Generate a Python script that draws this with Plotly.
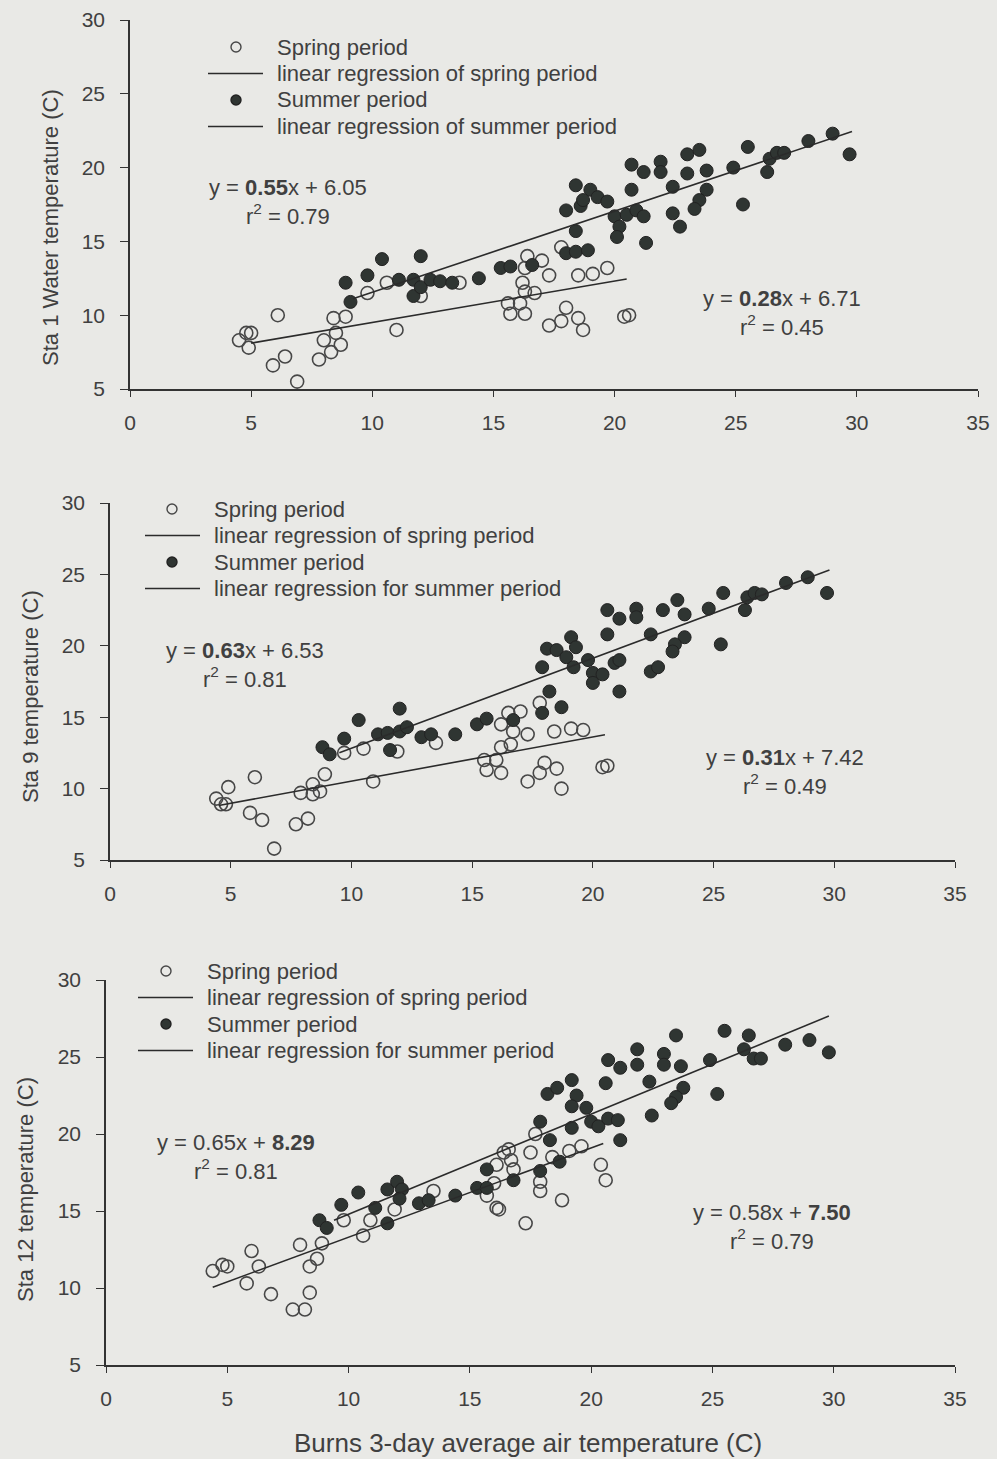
import plotly.graph_objects as go

W, H = 997, 1459

# ---- data ----
spring1_x = [4.5, 4.8, 5.0, 4.9, 6.1, 5.9, 6.4, 6.9, 7.8, 8.3, 8.7, 8.0, 8.5, 8.4, 8.9, 11.0, 9.8, 10.6, 12.0, 13.6,
             16.4, 16.3, 16.2, 16.3, 15.6, 16.1, 15.7, 16.3, 16.7, 17.0, 17.8, 17.3, 18.5, 19.1, 19.7, 18.0, 17.3,
             17.8, 18.5, 18.7, 20.4, 20.6]
spring1_y = [8.3, 8.8, 8.8, 7.8, 10.0, 6.6, 7.2, 5.5, 7.0, 7.5, 8.0, 8.3, 8.8, 9.8, 9.9, 9.0, 11.5, 12.2, 11.3, 12.2,
             14.0, 13.2, 12.2, 11.6, 10.8, 10.8, 10.1, 10.1, 11.5, 13.7, 14.6, 12.7, 12.7, 12.8, 13.2, 10.5, 9.3,
             9.6, 9.8, 9.0, 9.9, 10.0]
summer1_x = [8.9, 9.1, 9.8, 10.4, 11.1, 11.7, 12.0, 11.7, 12.0, 12.4, 12.8, 13.3, 14.4, 15.3, 15.7, 16.6,
             18.0, 18.4, 18.9, 18.4, 18.0, 18.6, 18.4, 19.0, 19.3, 19.7, 18.7, 20.0, 20.5, 20.9, 21.2, 20.2, 20.1,
             21.3, 20.7, 20.7, 21.2, 21.9, 21.9, 22.4, 22.4, 22.7, 23.0, 23.5, 23.0, 23.8, 23.8, 23.5, 23.3, 24.9,
             25.5, 25.3, 26.3, 26.4, 26.7, 27.0, 28.0, 29.0, 29.7]
summer1_y = [12.2, 10.9, 12.7, 13.8, 12.4, 12.4, 14.0, 11.3, 11.9, 12.4, 12.3, 12.2, 12.5, 13.2, 13.3, 13.4,
             14.2, 14.3, 14.4, 15.7, 17.1, 17.4, 18.8, 18.5, 18.0, 17.7, 17.8, 16.7, 16.8, 17.1, 16.7, 16.0, 15.3,
             14.9, 18.5, 20.2, 19.7, 20.4, 19.7, 18.7, 16.9, 16.0, 20.9, 21.2, 19.6, 19.8, 18.5, 17.8, 17.2, 20.0,
             21.4, 17.5, 19.7, 20.6, 21.0, 21.0, 21.8, 22.3, 20.9]

spring2_x = [4.4, 4.6, 4.8, 4.9, 6.0, 5.8, 6.3, 6.8, 7.7, 8.2, 7.9, 8.4, 8.7, 8.4, 8.9, 10.9, 9.7, 10.5, 11.9, 13.5,
             16.5, 17.0, 17.8, 16.2, 16.7, 17.3, 18.4, 19.1, 19.6, 16.2, 16.6, 15.5, 16.0, 15.6, 16.2, 18.0, 18.5,
             17.8, 17.3, 18.7, 20.4, 20.6]
spring2_y = [9.3, 8.9, 8.9, 10.1, 10.8, 8.3, 7.8, 5.8, 7.5, 7.9, 9.7, 9.6, 9.8, 10.3, 11.0, 10.5, 12.5, 12.8, 12.6, 13.2,
             15.3, 15.4, 16.0, 14.5, 14.0, 13.8, 14.0, 14.2, 14.1, 12.9, 13.1, 12.0, 12.0, 11.3, 11.1, 11.8, 11.4,
             11.1, 10.5, 10.0, 11.5, 11.6]
summer2_x = [8.8, 9.1, 9.7, 10.3, 11.1, 11.6, 11.5, 12.0, 12.0, 12.3, 12.9, 13.3, 14.3, 15.2, 15.6, 16.7,
             17.9, 18.2, 18.7, 17.9, 18.1, 18.5, 18.9, 19.1, 19.3, 19.2, 19.8, 20.0, 20.0, 20.4, 20.9, 21.1, 21.1,
             20.6, 20.6, 21.1, 21.8, 21.8, 22.4, 22.4, 22.7, 22.9, 23.5, 23.8, 23.8, 23.4, 23.3, 24.8, 25.4, 25.3,
             26.3, 26.4, 26.7, 27.0, 28.0, 28.9, 29.7]
summer2_y = [12.9, 12.4, 13.5, 14.8, 13.8, 12.7, 13.9, 15.6, 14.0, 14.3, 13.6, 13.8, 13.8, 14.5, 14.9, 14.8,
             15.3, 16.8, 15.7, 18.5, 19.8, 19.7, 19.2, 20.6, 19.9, 18.5, 19.0, 18.1, 17.4, 18.0, 18.8, 19.0, 16.8,
             20.8, 22.5, 21.9, 22.6, 22.0, 20.8, 18.2, 18.5, 22.5, 23.2, 22.2, 20.6, 20.1, 19.6, 22.6, 23.7, 20.1,
             22.5, 23.4, 23.7, 23.6, 24.4, 24.8, 23.7]

spring3_x = [4.4, 4.8, 5.0, 6.0, 6.3, 5.8, 6.8, 7.7, 8.2, 8.4, 8.0, 8.4, 8.7, 8.9, 9.8, 10.6, 10.9, 11.9, 13.5,
             16.1, 15.7, 16.1, 16.7, 16.6, 16.8, 16.4, 17.5, 16.0, 17.9, 17.9, 18.8, 16.2, 17.3, 18.4, 19.1, 19.6,
             20.4, 20.6, 17.7]
spring3_y = [11.1, 11.5, 11.4, 12.4, 11.4, 10.3, 9.6, 8.6, 8.6, 9.7, 12.8, 11.4, 11.9, 12.9, 14.4, 13.4, 14.4, 15.1, 16.3,
             15.2, 16.0, 18.0, 18.3, 19.0, 17.7, 18.8, 18.8, 16.8, 16.9, 16.3, 15.7, 15.1, 14.2, 18.5, 18.9, 19.2,
             18.0, 17.0, 20.0]
summer3_x = [8.8, 9.1, 9.7, 10.4, 11.1, 11.6, 11.6, 12.0, 12.2, 12.1, 12.9, 13.3, 14.4, 15.3, 15.7, 15.7, 16.8,
             17.9, 18.7, 18.3, 17.9, 19.2, 18.2, 18.6, 19.2, 19.4, 19.2, 19.8, 20.0, 20.3, 20.7, 21.1, 21.2, 20.6,
             20.7, 21.2, 21.9, 21.9, 22.4, 22.5, 23.0, 23.5, 23.0, 23.7, 23.8, 23.5, 23.3, 24.9, 25.5, 25.2, 26.3,
             26.5, 26.7, 27.0, 28.0, 29.0, 29.8]
summer3_y = [14.4, 13.9, 15.4, 16.2, 15.2, 14.2, 16.4, 16.9, 16.4, 15.8, 15.5, 15.7, 16.0, 16.5, 16.5, 17.7, 17.0,
             17.6, 18.2, 19.6, 20.8, 20.4, 22.6, 23.0, 23.5, 22.5, 21.8, 21.7, 20.8, 20.5, 21.0, 20.9, 19.6, 23.3,
             24.8, 24.3, 25.5, 24.5, 23.4, 21.2, 25.2, 26.4, 24.5, 24.4, 23.0, 22.4, 22.0, 24.8, 26.7, 22.6, 25.5,
             26.4, 24.9, 24.9, 25.8, 26.1, 25.3]

# regression fits printed on the chart: (slope, intercept, x start, x end)
spring_fit = [(0.28, 6.71, 5.0, 20.5), (0.31, 7.42, 4.5, 20.5), (0.58, 7.50, 4.4, 20.5)]
summer_fit = [(0.55, 6.05, 9.2, 29.8), (0.63, 6.53, 9.5, 29.8), (0.65, 8.29, 9.4, 29.8)]

left_eq = ["y = <b>0.55</b>x + 6.05<br>r<sup>2</sup> = 0.79",
           "y = <b>0.63</b>x + 6.53<br>r<sup>2</sup> = 0.81",
           "y = 0.65x + <b>8.29</b><br>r<sup>2</sup> = 0.81"]
right_eq = ["y = <b>0.28</b>x + 6.71<br>r<sup>2</sup> = 0.45",
            "y = <b>0.31</b>x + 7.42<br>r<sup>2</sup> = 0.49",
            "y = 0.58x + <b>7.50</b><br>r<sup>2</sup> = 0.79"]
y_titles = ["Sta 1 Water temperature (C)", "Sta 9 temperature (C)", "Sta 12 temperature (C)"]
summer_reg_names = ["linear regression of summer period", "linear regression for summer period",
                    "linear regression for summer period"]
x_title = "Burns 3-day average air temperature (C)"

x_ticks = [0, 5, 10, 15, 20, 25, 30, 35]
y_ticks = [5, 10, 15, 20, 25, 30]

BG = "#e9e9e6"
INK = "#333333"
TXT = "#404040"
FONT = "Liberation Sans, Arial, sans-serif"


def px(x):
    return x / W


def py(y):
    return 1 - y / H


# pixel boxes of the three plot areas: left, right, top, bottom
boxes = [(130, 978, 20, 389), (110, 955, 503, 860), (106, 955, 980, 1365)]
eq_left_pos = [(288, 202), (245, 665), (236, 1157)]
eq_right_pos = [(782, 313), (785, 772), (772, 1227)]
ytitle_pos = [(50, 228), (30, 697), (25, 1190)]
legend_pos = [(236, 208, 263, 275, 47), (172, 145, 200, 212, 509), (166, 138, 193, 205, 971)]

series = [(spring1_x, spring1_y, summer1_x, summer1_y),
          (spring2_x, spring2_y, summer2_x, summer2_y),
          (spring3_x, spring3_y, summer3_x, summer3_y)]

fig = go.Figure()
layout = {}
annotations = []
shapes = []

for i, (sx, sy, ux, uy) in enumerate(series):
    n = "" if i == 0 else str(i + 1)
    xa, ya = "x" + n, "y" + n
    fig.add_trace(go.Scatter(
        x=sx, y=sy, xaxis=xa, yaxis=ya, mode="markers", showlegend=False,
        marker=dict(symbol="circle-open", size=13, color="#474747", line=dict(width=1.6)),
    ))
    fig.add_trace(go.Scatter(
        x=ux, y=uy, xaxis=xa, yaxis=ya, mode="markers", showlegend=False,
        marker=dict(symbol="circle", size=13, color="#2f3532", line=dict(color="#222", width=1)),
    ))
    for slope, icpt, x0, x1 in (spring_fit[i], summer_fit[i]):
        fig.add_trace(go.Scatter(
            x=[x0, x1], y=[slope * x0 + icpt, slope * x1 + icpt], xaxis=xa, yaxis=ya,
            mode="lines", showlegend=False, line=dict(color="#2b2b2b", width=1.6),
        ))

    l, r, t, b = boxes[i]
    axis_common = dict(
        showline=True, linecolor=INK, linewidth=1.5, ticks="outside", tickcolor=INK,
        showgrid=False, zeroline=False, automargin=False,
        tickfont=dict(size=21, color=TXT, family=FONT),
    )
    layout["xaxis" + n] = dict(
        axis_common, domain=[px(l), px(r)], range=[0, 35], tickvals=x_ticks, ticklen=6,
        ticklabelstandoff=8, anchor=ya,
    )
    layout["yaxis" + n] = dict(
        axis_common, domain=[py(b), py(t)], range=[5, 30], tickvals=y_ticks, ticklen=8,
        ticklabelstandoff=11, anchor=xa,
    )

    for (ex, ey), txt in ((eq_left_pos[i], left_eq[i]), (eq_right_pos[i], right_eq[i])):
        annotations.append(dict(
            x=px(ex), y=py(ey), xref="paper", yref="paper", text=txt, showarrow=False,
            align="center", xanchor="center", yanchor="middle",
            font=dict(size=22, color=TXT, family=FONT),
        ))

    tx, ty = ytitle_pos[i]
    annotations.append(dict(
        x=px(tx), y=py(ty), xref="paper", yref="paper", text=y_titles[i], showarrow=False,
        textangle=-90, xanchor="center", yanchor="middle",
        font=dict(size=22, color=TXT, family=FONT),
    ))

    # hand-drawn legend box in the top-left of each panel
    mx, lx0, lx1, tx0, ly = legend_pos[i]
    rows = ["Spring period", "linear regression of spring period", "Summer period", summer_reg_names[i]]
    for k, label in enumerate(rows):
        yy = ly + 26.5 * k
        annotations.append(dict(
            x=px(tx0), y=py(yy), xref="paper", yref="paper", text=label, showarrow=False,
            xanchor="left", yanchor="middle", font=dict(size=22, color=TXT, family=FONT),
        ))
        if k in (1, 3):
            shapes.append(dict(type="line", xref="paper", yref="paper",
                               x0=px(lx0), x1=px(lx1), y0=py(yy), y1=py(yy),
                               line=dict(color="#2b2b2b", width=1.6)))
        else:
            shapes.append(dict(type="circle", xref="paper", yref="paper",
                               x0=px(mx - 5), x1=px(mx + 5), y0=py(yy + 5), y1=py(yy - 5),
                               fillcolor="#2f3532" if k == 2 else "rgba(0,0,0,0)",
                               line=dict(color="#474747" if k == 0 else "#222", width=1.4)))

annotations.append(dict(
    x=px(528), y=py(1443), xref="paper", yref="paper", text=x_title, showarrow=False,
    xanchor="center", yanchor="middle", font=dict(size=26, color=TXT, family=FONT),
))

fig.update_layout(
    width=W, height=H,
    margin=dict(l=0, r=0, t=0, b=0, autoexpand=False),
    paper_bgcolor=BG, plot_bgcolor=BG,
    font=dict(family=FONT, color=TXT),
    annotations=annotations, shapes=shapes,
    **layout,
)

# drop the default page margin so the 997x1459 figure fills the window exactly
fig.write_html(
    "out.html",
    config={"displayModeBar": False},
    post_script=f"document.body.style.margin='0';document.body.style.background='{BG}';"
                "document.body.style.overflow='hidden';",
)
